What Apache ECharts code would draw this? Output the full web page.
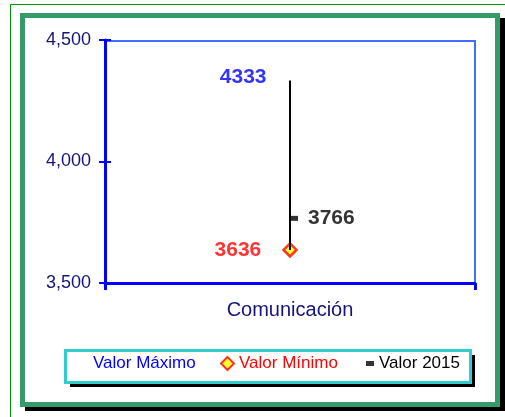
<!DOCTYPE html>
<html>
<head>
<meta charset="utf-8">
<script src="https://cdn.jsdelivr.net/npm/echarts@6/dist/echarts.min.js"></script>
<style>
  html, body { margin: 0; padding: 0; background: #ffffff; }
  #main { width: 505px; height: 417px; }
</style>
</head>
<body>
<div id="main"></div>
<script>
var categories = ["Comunicación"];
var valorMaximo = [4333];
var valorMinimo = [3636];
var valor2015 = [3766];
var yMin = 3500, yMax = 4500, yStep = 500;

var font = "Arial, 'Liberation Sans', sans-serif";
var navy = "#14147a";

var myChart = echarts.init(document.getElementById("main"));

function rangeLines() {
  var out = [];
  for (var i = 0; i < categories.length; i++) {
    out.push([
      { coord: [categories[i], valorMinimo[i]] },
      { coord: [categories[i], valorMaximo[i]] }
    ]);
  }
  return out;
}

var option = {
  animation: false,
  backgroundColor: "#ffffff",
  textStyle: { fontFamily: font },
  graphic: [
    // marco fino verde
    { type: "rect", z: -10, shape: { x: 10.5, y: 4.5, width: 600, height: 600 },
      style: { fill: "none", stroke: "#009000", lineWidth: 1 } },
    // sombra + marco grueso
    { type: "rect", z: -10, shape: { x: 25, y: 18, width: 480, height: 393 },
      style: { fill: "#000000" } },
    { type: "rect", z: -10, shape: { x: 22.5, y: 15.5, width: 475, height: 389 },
      style: { fill: "#ffffff", stroke: "#379a69", lineWidth: 5 } },
    // borde del area de trazado (arriba / derecha)
    { type: "rect", z: 1, shape: { x: 105, y: 41, width: 370, height: 242 },
      style: { fill: "none", stroke: "#3f6fff", lineWidth: 2 } },
    // caja de leyenda
    { type: "rect", z: -10, shape: { x: 70, y: 355, width: 405, height: 32 },
      style: { fill: "#000000" } },
    { type: "rect", z: -10, shape: { x: 65.5, y: 350.5, width: 405, height: 32 },
      style: { fill: "#ffffff", stroke: "#33cccc", lineWidth: 3 } }
  ],
  grid: {
    left: 105, right: 30, top: 40, bottom: 134
  },
  legend: [
    {
      data: [{ name: "Valor Máximo", itemStyle: { color: "rgba(0,0,0,0)", borderWidth: 0 } }],
      left: 74, top: 355, padding: 0, itemWidth: 14, itemHeight: 14, icon: "rect",
      textStyle: { color: "#0000ff", fontSize: 17, fontFamily: font }
    },
    {
      data: ["Valor Mínimo"],
      left: 220, top: 355, padding: 0, itemWidth: 13, itemHeight: 13, icon: "diamond",
      textStyle: { color: "#ff0000", fontSize: 17, fontFamily: font }
    },
    {
      data: ["Valor 2015"],
      left: 366, top: 355, padding: 0, itemWidth: 8, itemHeight: 5, icon: "rect",
      textStyle: { color: "#000000", fontSize: 17, fontFamily: font }
    }
  ],
  xAxis: {
    type: "category",
    data: categories,
    boundaryGap: true,
    z: 3,
    axisLine: { lineStyle: { color: "#0000ff", width: 3 } },
    axisTick: { show: true, length: 7, lineStyle: { color: "#0000ff", width: 3 } },
    axisLabel: { color: navy, fontSize: 20, margin: 17, fontFamily: font }
  },
  yAxis: [
    {
      type: "value",
      min: yMin, max: yMax, interval: yStep,
      z: 3,
      axisLine: { show: true, lineStyle: { color: "#0000ff", width: 3 } },
      axisTick: { show: true, length: 6, lineStyle: { color: "#0000ff", width: 2 } },
      splitLine: { show: false },
      axisLabel: {
        color: navy, fontSize: 18, margin: 14, fontFamily: font,
        formatter: function (v) { return v.toLocaleString("en-US"); }
      }
    },
    {
      type: "value", position: "left",
      min: yMin, max: yMax, interval: yStep,
      z: 3,
      axisLine: { show: false },
      axisTick: { show: true, inside: true, length: 6, lineStyle: { color: "#0000ff", width: 2 } },
      axisLabel: { show: false },
      splitLine: { show: false }
    }
  ],
  series: [
    {
      name: "Valor Máximo",
      type: "scatter",
      data: valorMaximo,
      symbol: "circle",
      symbolSize: 1,
      itemStyle: { color: "rgba(0,0,0,0)" },
      z: 3,
      label: {
        show: true, position: "left", distance: 23, offset: [0, -3],
        formatter: "{c}", color: "#0000ff", fontSize: 21, fontWeight: "bold", fontFamily: font
      },
      markLine: {
        silent: true,
        symbol: ["none", "none"],
        label: { show: false },
        lineStyle: { color: "#000000", width: 2, type: "solid" },
        data: rangeLines()
      }
    },
    {
      name: "Valor Mínimo",
      type: "scatter",
      data: valorMinimo,
      symbol: "diamond",
      symbolSize: 13,
      z: 4,
      itemStyle: { color: "#ffff00", borderColor: "#ff0000", borderWidth: 2.5 },
      label: {
        show: true, position: "left", distance: 21,
        formatter: "{c}", color: "#ff0000", fontSize: 21, fontWeight: "bold", fontFamily: font
      }
    },
    {
      name: "Valor 2015",
      type: "scatter",
      data: valor2015,
      symbol: "rect",
      symbolSize: [8, 5],
      symbolOffset: [4, 0],
      z: 4,
      itemStyle: { color: "#000000" },
      label: {
        show: true, position: "right", distance: 10,
        formatter: "{c}", color: "#000000", fontSize: 21, fontWeight: "bold", fontFamily: font
      }
    }
  ]
};

myChart.setOption(option);
</script>
</body>
</html>
